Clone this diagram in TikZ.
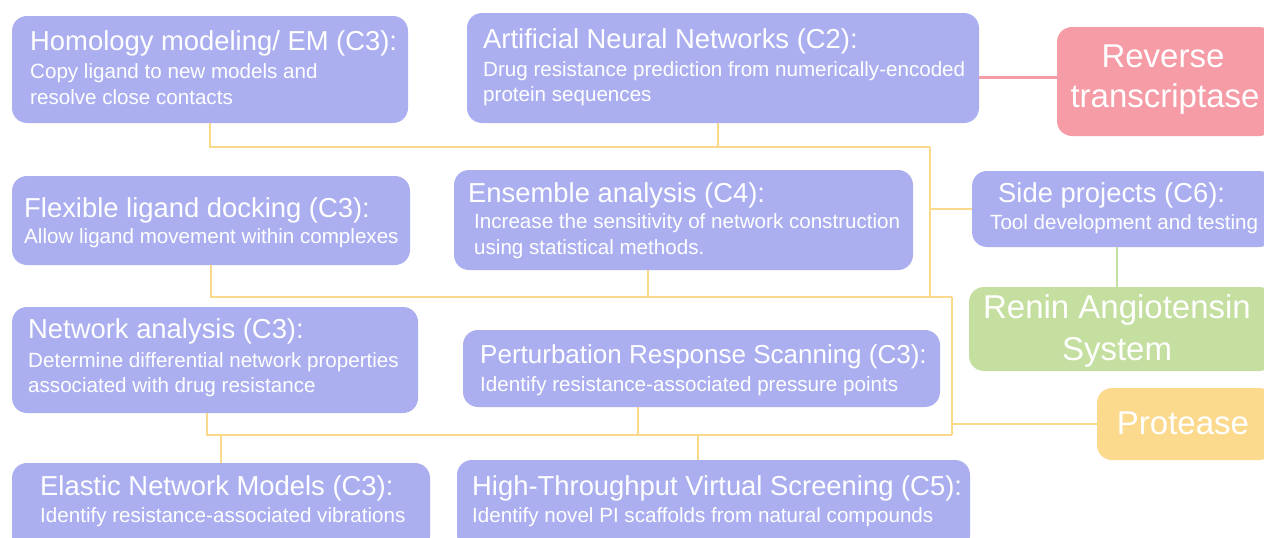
\documentclass[tikz,border=0pt]{standalone}
\usepackage{fontspec}
\setmainfont{Liberation Sans}
\definecolor{boxblue}{HTML}{ABAFF0}
\definecolor{boxpink}{HTML}{F59CA6}
\definecolor{boxgreen}{HTML}{C4DF9F}
\definecolor{boxyellow}{HTML}{FBD98D}
\definecolor{linkyellow}{HTML}{FAD98A}
\begin{document}
\begin{tikzpicture}[x=1pt,y=-1pt,
  box/.style={rectangle, rounded corners=15pt, draw=none, inner sep=0pt},
  bluebox/.style={box, fill=boxblue},
  ttl/.style={anchor=base west, inner sep=0pt, text=white, font=\fontsize{27.4}{31}\selectfont},
  sub/.style={anchor=base west, inner sep=0pt, text=white, font=\fontsize{20.6}{25}\selectfont},
  big/.style={anchor=base, inner sep=0pt, text=white, font=\fontsize{33}{38}\selectfont},
  ylink/.style={draw=linkyellow, line width=2.8pt},
  plink/.style={draw=boxpink, line width=2.8pt},
  glink/.style={draw=boxgreen, line width=2.8pt}]
\clip (0,0) rectangle (1264,538);
\fill[white] (0,0) rectangle (1264,538);
% boxes
\node[bluebox, minimum width=396pt, minimum height=107pt] (hom) at (210,69.5) {};
\node[bluebox, minimum width=512pt, minimum height=110pt] (ann) at (723,68) {};
\node[box, fill=boxpink, minimum width=217pt, minimum height=109pt] (rt) at (1165.5,81.5) {};
\node[bluebox, minimum width=398pt, minimum height=89pt] (flex) at (211,220.5) {};
\node[bluebox, minimum width=459pt, minimum height=100pt] (ens) at (683.5,220) {};
\node[bluebox, minimum width=302pt, minimum height=76pt] (side) at (1123,209) {};
\node[box, fill=boxgreen, minimum width=305pt, minimum height=84pt] (ren) at (1121.5,329) {};
\node[bluebox, minimum width=406pt, minimum height=106pt] (net) at (215,360) {};
\node[bluebox, minimum width=477pt, minimum height=77pt] (prs) at (701.5,368.5) {};
\node[box, fill=boxyellow, minimum width=177pt, minimum height=72pt] (pro) at (1185.5,424) {};
\node[bluebox, minimum width=418pt, minimum height=88pt] (ela) at (221,507) {};
\node[bluebox, minimum width=513pt, minimum height=90pt] (hts) at (713.5,505) {};
% junctions
\coordinate (j1) at (930,147);
\coordinate (j2) at (930,297);
\coordinate (r1) at (952,297);
\coordinate (r2) at (952,435);
% connectors
\draw[ylink] (hom.south) |- (j1);
\draw[ylink] ([xshift=-5pt]ann.south) -- ([xshift=-5pt]ann.south |- j1);
\draw[ylink] (j1) -- (j2);
\draw[ylink] (side.west) -- (side.west -| j1);
\draw[ylink] (flex.south) |- (r1);
\draw[ylink] ([xshift=-35.5pt]ens.south) -- ([xshift=-35.5pt]ens.south |- r1);
\draw[ylink] (r1) -- (r2);
\draw[ylink] ([xshift=-8pt]net.south) |- (r2);
\draw[ylink] ([xshift=-63.5pt]prs.south) -- ([xshift=-63.5pt]prs.south |- r2);
\draw[ylink] (ela.north) -- (ela.north |- r2);
\draw[ylink] ([xshift=-15.5pt]hts.north) -- ([xshift=-15.5pt]hts.north |- r2);
\draw[ylink] (pro.west) -- (pro.west -| r2);
\draw[plink] ([yshift=4pt]rt.west) -- ([yshift=4pt]rt.west -| ann.east);
\draw[glink] ([xshift=-6pt]side.south) -- ([xshift=-6pt]side.south |- ren.north);
% texts
\node[ttl] (homT) at (30,50) {Homology modeling/ EM (C3):};
\node[sub] (homS1) at (30,78) {Copy ligand to new models and};
\node[sub] (homS2) at (30,104) {resolve close contacts};
\node[ttl] (annT) at (483,48) {Artificial Neural Networks (C2):};
\node[sub] (annS1) at (483,76) {Drug resistance prediction from numerically-encoded};
\node[sub] (annS2) at (483,101) {protein sequences};
\node[big] (rtT1) at (1163,67) {Reverse};
\node[big] (rtT2) at (1165,107) {transcriptase};
\node[ttl] (flexT) at (24,217) {Flexible ligand docking (C3):};
\node[sub] (flexS) at (24,243) {Allow ligand movement within complexes};
\node[ttl] (ensT) at (468,202) {Ensemble analysis (C4):};
\node[sub] (ensS1) at (474,228) {Increase the sensitivity of network construction};
\node[sub] (ensS2) at (474,254) {using statistical methods.};
\node[ttl] (sideT) at (998,202) {Side projects (C6):};
\node[sub] (sideS) at (990,229) {Tool development and testing};
\node[big] (renT1) at (1117,318) {Renin Angiotensin};
\node[big] (renT2) at (1117,360) {System};
\node[ttl] (netT) at (28,338) {Network analysis (C3):};
\node[sub] (netS1) at (28,367) {Determine differential network properties};
\node[sub] (netS2) at (28,392) {associated with drug resistance};
\node[ttl, font=\fontsize{26}{30}\selectfont] (prsT) at (480,363) {Perturbation Response Scanning (C3):};
\node[sub] (prsS) at (480,391) {Identify resistance-associated pressure points};
\node[big] (proT) at (1183,434) {Protease};
\node[ttl] (elaT) at (40,495) {Elastic Network Models (C3):};
\node[sub] (elaS) at (40,522) {Identify resistance-associated vibrations};
\node[ttl] (htsT) at (472,495) {High-Throughput Virtual Screening (C5):};
\node[sub] (htsS) at (472,522) {Identify novel PI scaffolds from natural compounds};
\end{tikzpicture}
\end{document}
